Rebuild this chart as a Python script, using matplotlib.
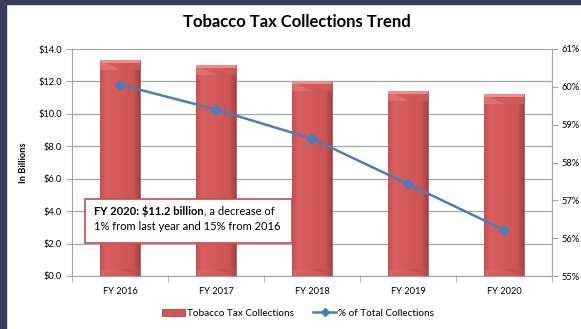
import numpy as np
import matplotlib
matplotlib.use("Agg")
import matplotlib.pyplot as plt
from matplotlib.patches import Rectangle, Polygon
from matplotlib.lines import Line2D
from matplotlib.colors import LinearSegmentedColormap

plt.rcParams['font.family'] = ['Lato', 'DejaVu Sans']

years = ['FY 2016', 'FY 2017', 'FY 2018', 'FY 2019', 'FY 2020']
collections = [13.3, 13.0, 12.0, 11.4, 11.2]          # billions of dollars
pct_of_total = [60.06, 59.40, 58.63, 57.43, 56.22]    # percent

fig = plt.figure(figsize=(5.81, 3.29), dpi=100)
fig.patch.set_facecolor('white')

# dark frame on the top and left edges
fig.add_artist(Rectangle((0, 1 - 4 / 329), 1, 4 / 329, transform=fig.transFigure,
                         color='#3b3b5c', zorder=0))
fig.add_artist(Rectangle((0, 0), 6 / 581, 1, transform=fig.transFigure,
                         color='#3b3b5c', zorder=0))

ax = fig.add_axes([72 / 581, 53 / 329, 480 / 581, 227 / 329])
x = np.arange(len(years))
w = 0.41

ax.set_xlim(-0.5, len(years) - 0.5)
ax.set_ylim(0, 14)
ax.set_yticks(np.arange(0, 14.1, 2))
ax.set_yticklabels(['${:.1f}'.format(v) for v in np.arange(0, 14.1, 2)])
ax.yaxis.grid(True, color='#a6a6a6', lw=0.9)
ax.set_axisbelow(True)

grad = LinearSegmentedColormap.from_list(
    'bar', [(0, '#c95151'), (0.15, '#d85f5f'), (0.5, '#d55b5b'), (0.85, '#cc5454'), (1, '#a94141')])
img = np.linspace(0, 1, 64).reshape(1, -1)
bars = ax.bar(x, collections, width=w, color='none', edgecolor='#b04a4a', lw=0.6, zorder=2)
for b in bars:
    x0, h = b.get_x(), b.get_height()
    mid = x0 + w / 2
    im = ax.imshow(img, cmap=grad, aspect='auto', extent=(x0, x0 + w, 0, h), zorder=2)
    im.set_clip_path(b)
    # bevelled top: lighter side facets around a V in the middle
    cap = 0.6
    ax.add_patch(Polygon([(x0, h), (mid, h - cap), (x0, h - cap)],
                         closed=True, color='#e07373', lw=0, alpha=0.9, zorder=3))
    ax.add_patch(Polygon([(x0 + w, h), (mid, h - cap), (x0 + w, h - cap)],
                         closed=True, color='#cf5d5d', lw=0, alpha=0.9, zorder=3))
    ax.add_patch(Rectangle((x0, h - 0.15), w, 0.15, color='#ec8c8c', lw=0, zorder=3))
    # bevelled bottom
    ax.add_patch(Polygon([(x0, 0), (mid, cap * 0.7), (x0, cap * 0.7)],
                         closed=True, color='#d86666', lw=0, alpha=0.7, zorder=3))
    ax.add_patch(Polygon([(x0 + w, 0), (mid, cap * 0.7), (x0 + w, cap * 0.7)],
                         closed=True, color='#c04c4c', lw=0, alpha=0.7, zorder=3))
ax.set_xticks(x)
ax.set_xticklabels(years)
ax.set_xticks(np.arange(-0.5, len(years)), minor=True)
ax.tick_params(axis='x', which='major', length=0, pad=8, labelsize=6.7)
ax.tick_params(axis='x', which='minor', length=4, color='#a6a6a6')
ax.tick_params(axis='y', length=4, color='#a6a6a6', labelsize=6.7, pad=3)
ax.set_ylabel('In Billions', fontsize=6.7, fontweight='bold', labelpad=8)
ax.spines['top'].set_visible(False)
for s in ['left', 'right', 'bottom']:
    ax.spines[s].set_color('#a6a6a6')

ax2 = ax.twinx()
ax2.set_ylim(55, 61)
ax2.set_yticks(range(55, 62))
ax2.set_yticklabels(['{}%'.format(v) for v in range(55, 62)])
ax2.tick_params(axis='y', length=4, color='#a6a6a6', labelsize=6.7, pad=3)
for s in ['top', 'left', 'bottom']:
    ax2.spines[s].set_visible(False)
ax2.spines['right'].set_color('#a6a6a6')
ax2.plot(x, pct_of_total, color='#4a7ebb', lw=1.8, marker='D', markersize=5,
         markerfacecolor='#4a7ebb', markeredgecolor='#4a7ebb', zorder=5)

fig.text(297 / 581, 1 - 22 / 329, 'Tobacco Tax Collections Trend', ha='center', va='center',
         fontsize=12, fontweight='bold')

# callout box
fig.add_artist(Rectangle((85 / 581, 1 - 243 / 329), 207 / 581, 44 / 329,
                         transform=fig.transFigure, facecolor='white',
                         edgecolor='#c0504d', lw=1.2, zorder=10))
t1 = fig.text(94 / 581, 1 - 211 / 329, 'FY 2020: $11.2 billion', fontsize=8,
              fontweight='bold', va='center', zorder=11)
fig.canvas.draw()
bb = t1.get_window_extent()
fig.text(bb.x1 / fig.bbox.width, 1 - 211 / 329, ', a decrease of', fontsize=8,
         va='center', zorder=11)
fig.text(94 / 581, 1 - 226 / 329, '1% from last year and 15% from 2016', fontsize=8,
         va='center', zorder=11)

handles = [Rectangle((0, 0), 1, 1, facecolor='#d25858', edgecolor='#a84444', lw=0.6),
           Line2D([], [], color='#4a7ebb', lw=1.8, marker='D', markersize=4)]
fig.legend(handles, ['Tobacco Tax Collections', '% of Total Collections'],
           loc='center', bbox_to_anchor=(298 / 581, 1 - 313 / 329), ncol=2, frameon=False,
           fontsize=7.2, handlelength=2.3, handletextpad=0.25, columnspacing=1.9)

fig.savefig('out.png', dpi=100)
